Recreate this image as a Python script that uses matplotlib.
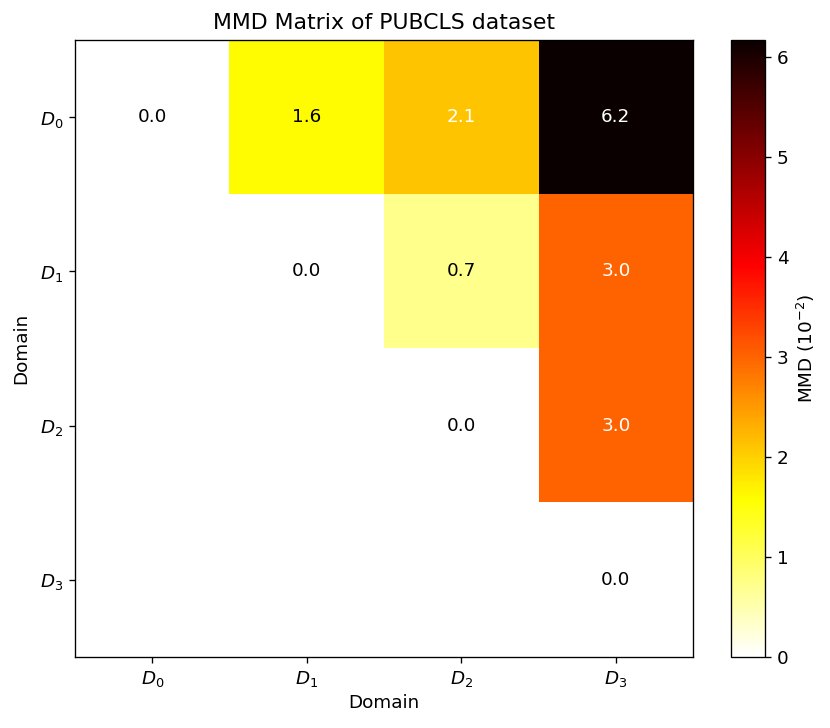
import matplotlib
matplotlib.use("Agg")
import matplotlib.pyplot as plt
import numpy as np

domains = [r"$D_0$", r"$D_1$", r"$D_2$", r"$D_3$"]
# upper triangle of the MMD matrix (x 10^-2), NaN below the diagonal
row0 = [0.0, 1.6, 2.1, 6.17]
row1 = [np.nan, 0.0, 0.7, 3.0]
row2 = [np.nan, np.nan, 0.0, 3.0]
row3 = [np.nan, np.nan, np.nan, 0.0]

mmd = np.array([row0, row1, row2, row3])
vmax = np.nanmax(mmd)

plt.rcParams["font.size"] = 11

DPI = 120
fig = plt.figure(figsize=(830 / DPI, 728 / DPI), dpi=DPI)
ax = fig.add_axes([0.0904, 0.0975, 0.7446, 0.8475])
cax = fig.add_axes([0.881, 0.0975, 0.041, 0.8475])

im = ax.imshow(mmd, cmap="hot_r", vmin=0, vmax=vmax, aspect="auto")

for i in range(mmd.shape[0]):
    for j in range(mmd.shape[1]):
        if np.isnan(mmd[i, j]):
            continue
        col = "white" if mmd[i, j] > vmax / 3 else "black"
        ax.text(j, i, f"{mmd[i, j]:.1f}", ha="center", va="center", color=col)

ax.set_xticks(range(4))
ax.set_yticks(range(4))
ax.set_xticklabels(domains)
ax.set_yticklabels(domains)
ax.set_xlabel("Domain", labelpad=3)
ax.set_ylabel("Domain", labelpad=6)
ax.set_title("MMD Matrix of PUBCLS dataset", pad=6.5)

cb = fig.colorbar(im, cax=cax)
cb.set_label(r"MMD ($10^{-2}$)")

plt.savefig("out.png", dpi=DPI)
